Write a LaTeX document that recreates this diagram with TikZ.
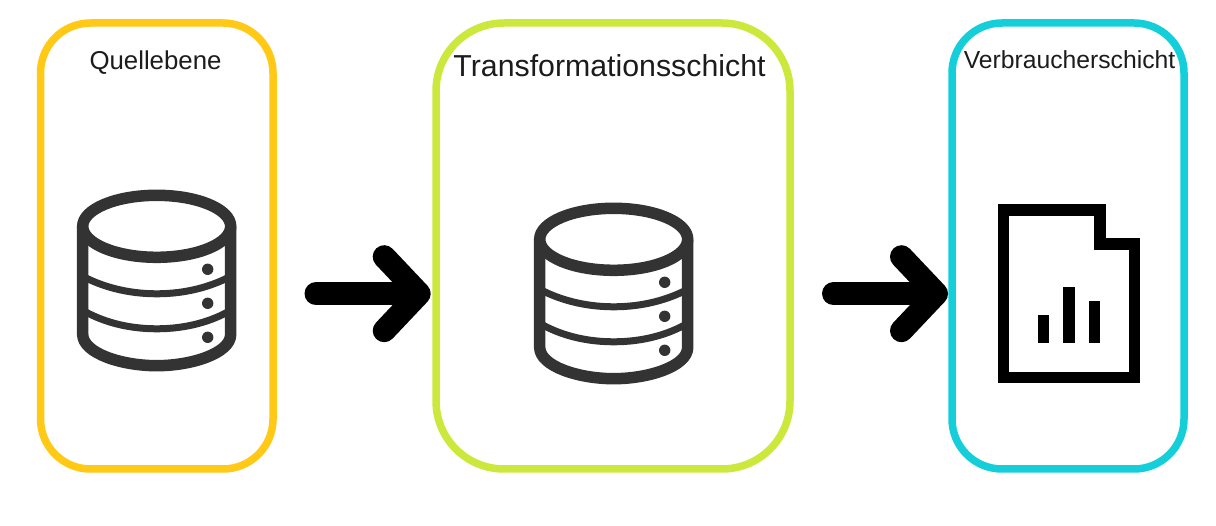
\documentclass[tikz,border=0pt]{standalone}
\usepackage{fontspec}
\setmainfont{Liberation Sans}
\usetikzlibrary{arrows.meta,calc}
\definecolor{cyellow}{HTML}{FFC915}
\definecolor{cgreen}{HTML}{CDE83C}
\definecolor{ccyan}{HTML}{14CFD9}
\definecolor{icongray}{HTML}{333333}
\definecolor{labelink}{HTML}{1C1C1C}
\tikzset{
  layerbox/.style={draw=#1,line width=7.5pt,fill=none,inner sep=0pt,outer sep=0pt,anchor=north west},
  layerlabel/.style={text=labelink,inner sep=0pt,outer sep=0pt,anchor=base},
  flow/.style={line width=23pt,line cap=round,black,
    -{Straight Barb[length=35pt,width=74pt,line width=23pt,round]}},
  dbline/.style={draw=icongray,line join=round,line cap=butt},
  pics/dbicon/.style={code={
    \draw[dbline,line width=7pt] (-74,50) .. controls (-55,60) and (-30,67.5) .. (0,67.5) .. controls (30,67.5) and (55,60) .. (74,50);
    \draw[dbline,line width=7pt] (-74,84) .. controls (-55,95) and (-30,102.5) .. (0,102.5) .. controls (30,102.5) and (55,95) .. (74,84);
    \draw[dbline,line width=11.5pt] (-74,0) -- (-74,108) .. controls (-74,127) and (-35,139.4) .. (0,139.4) .. controls (35,139.4) and (74,127) .. (74,108) -- (74,0);
    \draw[dbline,line width=11.5pt,fill=white] (0,0) ellipse [x radius=74,y radius=31];
    \fill[icongray] (51,43) circle [radius=5.7];
    \fill[icongray] (51,77) circle [radius=5.7];
    \fill[icongray] (51,111) circle [radius=5.7];
  }}
}
\begin{document}
\begin{tikzpicture}[x=1pt,y=-1pt]
\useasboundingbox (0,0) rectangle (1216,526);
\fill[white] (0,0) rectangle (1216,526);
\node[layerbox=cyellow,minimum width=232.5pt,minimum height=446pt,rounded corners=50pt] (src) at (40.5,23) {};
\node[layerbox=cgreen,minimum width=354pt,minimum height=446pt,rounded corners=68pt] (trans) at (436,23) {};
\node[layerbox=ccyan,minimum width=232pt,minimum height=446pt,rounded corners=50pt] (cons) at (952,23) {};
\node[layerlabel,font=\fontsize{25.8pt}{30pt}\selectfont] (lsrc) at (155.5,69.3) {Quellebene};
\node[layerlabel,font=\fontsize{30.3pt}{34pt}\selectfont] (ltrans) at (609.5,77) {Transformationsschicht};
\node[layerlabel,font=\fontsize{24.7pt}{29pt}\selectfont] (lcons) at (1069.5,68.3) {Verbraucherschicht};
\pic at (156.7,226.3) {dbicon};
\pic at (613.7,239.3) {dbicon};
% document icon
\draw[black,line width=11.4pt,miter limit=10] (1003.7,210) -- (1100,210) -- (1100,244) -- (1134.3,244) -- (1134.3,377.7) -- (1003.7,377.7) -- cycle;
\fill[black] (1037.7,315) rectangle (1049.3,343.3);
\fill[black] (1063.3,286.7) rectangle (1074.7,343.3);
\fill[black] (1088.7,301) rectangle (1100,343.3);
% arrows
\coordinate (a1y) at (0,293.7);
\draw[flow,shorten <=43pt,shorten >=5.3pt] (src.east |- a1y) -- (trans.west |- a1y);
\draw[flow,shorten <=43.5pt,shorten >=4pt] (trans.east |- a1y) -- (cons.west |- a1y);
\end{tikzpicture}
\end{document}
